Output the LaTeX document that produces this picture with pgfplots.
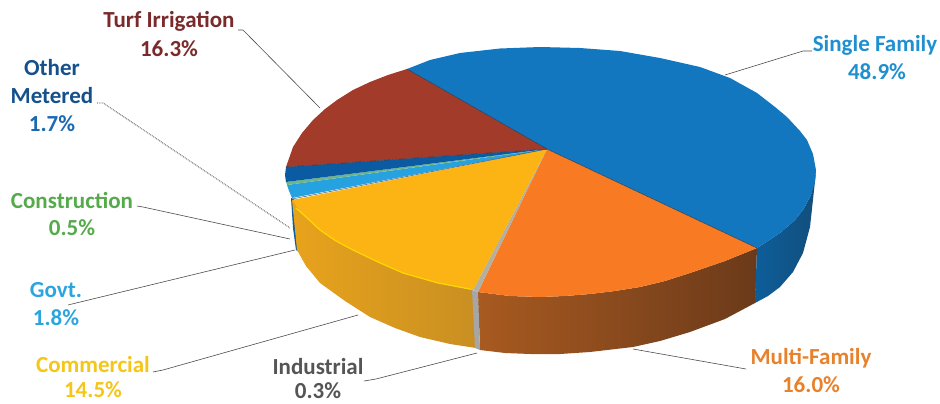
\documentclass[border=0pt]{standalone}
\usepackage{pgfplots}
\pgfplotsset{compat=1.18}
\usepackage{fontspec}
\setmainfont{Carlito}

\definecolor{blueTop}{HTML}{1277BE}
\definecolor{orangeTop}{HTML}{F87A22}
\definecolor{yellowTop}{HTML}{FBB413}
\definecolor{redTop}{HTML}{A23B29}
\definecolor{navyTop}{HTML}{0B5BA3}
\definecolor{skyTop}{HTML}{27A2E0}
\definecolor{greenTop}{HTML}{6FB58A}
\definecolor{grayTop}{HTML}{B5AFA0}
\definecolor{rimYellow}{HTML}{FFD800}
\definecolor{seam}{HTML}{1F3F5F}
\definecolor{yellowSideL}{HTML}{E8A31C}
\definecolor{yellowSideR}{HTML}{C98F22}
\definecolor{brownSideL}{HTML}{A85A20}
\definecolor{brownSideR}{HTML}{6B3A1A}
\definecolor{blueSideL}{HTML}{0D5E9A}
\definecolor{blueSideR}{HTML}{124E7C}
\definecolor{labSingle}{HTML}{1F8FD0}
\definecolor{labMulti}{HTML}{E8812B}
\definecolor{labInd}{HTML}{555555}
\definecolor{labCom}{HTML}{F5C518}
\definecolor{labGov}{HTML}{2CA5DE}
\definecolor{labCon}{HTML}{55AA4A}
\definecolor{labOth}{HTML}{14508C}
\definecolor{labOthP}{HTML}{1B6AB0}
\definecolor{labTurf}{HTML}{7A2A2A}

\newcommand{\lab}[4]{\node[text=#4,font=\bfseries\fontsize{23}{23}\selectfont,anchor=center,inner sep=0pt] at (axis cs:#1,#2) {#3};}

\begin{document}
\begin{tikzpicture}
\begin{axis}[
    scale only axis,
    width=940pt, height=404pt,
    xmin=0, xmax=940,
    ymin=0, ymax=404,
    y dir=reverse,
    axis lines=none,
    clip=false,
]
\path[use as bounding box] (axis cs:0,0) rectangle (axis cs:940,404);

% side walls
\addplot[fill=blueSideL, draw=none] coordinates {
    (291,198) (295,200) (299,252) (296,250) (293,228) (291,198)
};
\addplot[draw=none, shade, left color=yellowSideL, right color=yellowSideR] coordinates {
    (292,200) (305,216) (320,230) (336,241) (353,250) (378,262) (403,273) (438,283) (473,290)
    (476,348) (450,344) (420,337) (395,328) (370,317) (345,301) (320,283) (306,266) (297,250) (292,200)
};
\addplot[draw=none, shade, left color=brownSideL, right color=brownSideR] coordinates {
    (478,292) (510,296) (540,297) (565,296) (590,294) (615,291) (640,287) (665,281) (690,273) (725,261) (757,248)
    (755,303) (725,319) (690,332) (660,341) (633,347) (590,352) (560,354) (530,354) (505,353) (480,350) (478,292)
};
\addplot[fill=gray!70, draw=none] coordinates {
    (472,290) (478,292) (480,350) (475,348) (472,290)
};
\addplot[draw=none, shade, left color=blueSideL, right color=blueSideR] coordinates {
    (757,248) (780,233) (795,220) (803,210) (811,195) (816,172)
    (810,227) (803,253) (793,272) (780,287) (768,296) (755,303) (757,248)
};

% top face
\addplot[fill=blueTop, draw=none] coordinates {
    (547,149) (407,69) (430,60) (460,53) (500,48.5) (540,47) (580,48) (620,51) (660,58) (700,67) (730,78)
    (757,93) (775,107) (787,117) (800,131) (807,140) (813,154) (816,170) (815,182) (811,195) (803,210)
    (795,220) (780,233) (757,248) (547,149)
};
\addplot[fill=orangeTop, draw=none] coordinates {
    (547,149) (757,248) (725,261) (690,273) (665,281) (640,287) (615,291) (590,294) (565,296) (540,297)
    (510,296) (478,292) (547,149)
};
\addplot[fill=grayTop, draw=none] coordinates {
    (547,149) (478,292) (473,290) (547,149)
};
\addplot[fill=yellowTop, draw=none] coordinates {
    (547,149) (473,290) (438,283) (403,273) (378,262) (353,250) (336,241) (320,230) (305,216) (292,200) (547,149)
};
\addplot[fill=skyTop, draw=none] coordinates {
    (547,149) (292,198) (289,191) (287,185) (547,149)
};
\addplot[fill=greenTop, draw=none] coordinates {
    (547,149) (287,185) (286,182) (547,149)
};
\addplot[fill=navyTop, draw=none] coordinates {
    (547,149) (286,182) (285,175) (286,167) (547,149)
};
\addplot[fill=redTop, draw=none] coordinates {
    (547,149) (286,167) (293,147) (302,133) (313,120) (325,109) (337,100) (353,90) (370,82) (388,75) (407,69) (547,149)
};

% dark seams between the slices
\addplot[color=seam, line width=0.5pt] coordinates {(407,69) (547,149) (757,248)};
\addplot[color=seam, line width=0.4pt] coordinates {(286,167) (547,149)};
\addplot[color=seam, line width=0.4pt] coordinates {(292,199) (547,149)};

% yellow highlight on the rim
\addplot[color=rimYellow, line width=1.2pt] coordinates {
    (296,208) (305,216) (320,230) (336,241) (353,250) (378,262) (403,273) (438,283) (470,289)
};

% leader lines
\addplot[color=black!70, line width=0.6pt] coordinates {(238,30) (243,30) (320,108)};
\addplot[color=black!85, line width=0.8pt, densely dotted] coordinates {(97,103) (103,103) (290,228)};
\addplot[color=black!70, line width=0.6pt] coordinates {(137,206) (143,207) (290,239)};
\addplot[color=black!70, line width=0.6pt] coordinates {(68,305) (72,304) (295,250)};
\addplot[color=black!70, line width=0.6pt] coordinates {(153,372) (163,370) (358,315)};
\addplot[color=black!70, line width=0.6pt] coordinates {(364,381) (376,379) (477,353)};
\addplot[color=black!70, line width=0.6pt] coordinates {(633,349) (746,369)};
\addplot[color=black!70, line width=0.6pt] coordinates {(725,75) (803,51) (812,51)};

% labels
\lab{875}{45}{Single Family}{labSingle}
\lab{877}{72}{48.9\%}{labSingle}
\lab{811}{358}{Multi-Family}{labMulti}
\lab{811}{385}{16.0\%}{labMulti}
\lab{318}{367}{Industrial}{labInd}
\lab{318}{391}{0.3\%}{labInd}
\lab{93}{365}{Commercial}{labCom}
\lab{93}{390}{14.5\%}{labCom}
\lab{56}{290}{Govt.}{labGov}
\lab{56}{318}{1.8\%}{labGov}
\lab{72}{200}{Construction}{labCon}
\lab{72}{228}{0.5\%}{labCon}
\lab{52}{68}{Other}{labOth}
\lab{52}{96}{Metered}{labOth}
\lab{52}{124}{1.7\%}{labOthP}
\lab{169}{21}{Turf Irrigation}{labTurf}
\lab{169}{49}{16.3\%}{labTurf}
\end{axis}
\end{tikzpicture}
\end{document}
